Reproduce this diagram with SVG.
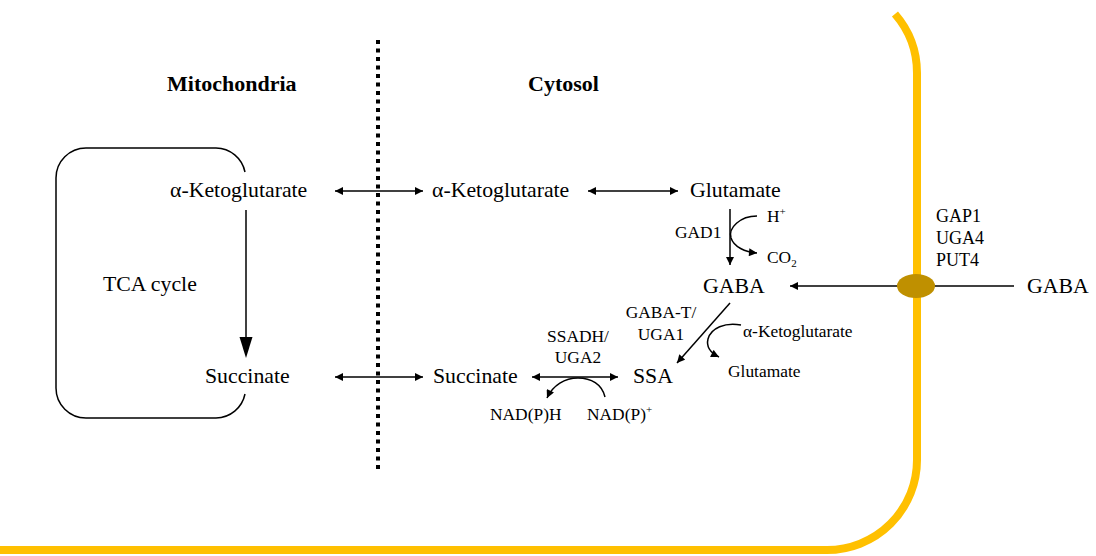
<svg xmlns="http://www.w3.org/2000/svg" width="1096" height="556" viewBox="0 0 1096 556">
<style>
text{font-family:"Liberation Serif","Times New Roman",serif;fill:#000}
.t{font-size:21.8px}
.s{font-size:17.4px}
.m{font-size:18px}
.b{font-size:22px;font-weight:bold}
.ln{stroke:#000;stroke-width:1.5;fill:none}
.sup{font-size:11px}
</style>
<defs>
<marker id="arr" viewBox="0 0 10 10" refX="10" refY="5" markerUnits="userSpaceOnUse" markerWidth="9" markerHeight="8" orient="auto-start-reverse">
<path d="M0,0 L10,5 L0,10 z" fill="#000"/>
</marker>
</defs>
<rect width="1096" height="556" fill="#fff"/>
<g id="cell-membrane">
<path d="M894.96,14 A90,90 0 0 1 917,73 V460 A90,90 0 0 1 827,550 H0" fill="none" stroke="#FFC000" stroke-width="8"/>
</g>
<g id="divider">
<line x1="378" y1="40" x2="378" y2="472" stroke="#000" stroke-width="4" stroke-dasharray="4 4.5"/>
</g>
<g id="tca-cycle">
<path d="M245,172 A30,30 0 0 0 216,148 H86 A30,30 0 0 0 56,178 V388 A30,30 0 0 0 86,418 H216 A30,30 0 0 0 245,394" class="ln"/>
<text class="t" x="103" y="291">TCA cycle</text>
</g>
<g id="titles">
<text class="b" x="167" y="91">Mitochondria</text>
<text class="b" x="528" y="91">Cytosol</text>
</g>
<g id="connectors">
<line x1="246" y1="210" x2="246" y2="338" class="ln"/>
<polygon points="239.5,337 252.5,337 246,358" fill="#000"/>
<line x1="335" y1="191" x2="423" y2="191" class="ln" marker-start="url(#arr)" marker-end="url(#arr)"/>
<line x1="588" y1="191" x2="678" y2="191" class="ln" marker-start="url(#arr)" marker-end="url(#arr)"/>
<line x1="335" y1="377" x2="423" y2="377" class="ln" marker-start="url(#arr)" marker-end="url(#arr)"/>
<line x1="532" y1="377" x2="618" y2="377" class="ln" marker-start="url(#arr)" marker-end="url(#arr)"/>
<line x1="730" y1="209" x2="730" y2="265" class="ln" marker-end="url(#arr)"/>
<path d="M757,216 C740,216 728,228 731,238 C734,247 745,252 757,253" class="ln" marker-end="url(#arr)"/>
<line x1="730" y1="303" x2="677" y2="363" class="ln" marker-end="url(#arr)"/>
<path d="M741,325 C725,322 711,328 708,339 C706,347 711,353 719,357" class="ln" marker-end="url(#arr)"/>
<path d="M605,397 C602,384 591,378 578,378 C565,378 553,385 547,398" class="ln" marker-end="url(#arr)"/>
<line x1="1014" y1="286" x2="790" y2="286" class="ln" marker-end="url(#arr)"/>
</g>
<g id="transporter">
<ellipse cx="916" cy="286" rx="19" ry="12" fill="#BF9000"/>
<text class="m" x="936" y="222">GAP1</text>
<text class="m" x="936" y="244">UGA4</text>
<text class="m" x="936" y="266">PUT4</text>
</g>
<g id="mito-akg"><text class="t" x="170" y="197">α-Ketoglutarate</text></g>
<g id="mito-succinate"><text class="t" x="205" y="383">Succinate</text></g>
<g id="cyto-akg"><text class="t" x="432" y="197">α-Ketoglutarate</text></g>
<g id="glutamate"><text class="t" x="690" y="197">Glutamate</text></g>
<g id="gad1">
<text class="s" x="675" y="238">GAD1</text>
<text class="s" x="767" y="222">H<tspan class="sup" dy="-7">+</tspan></text>
<text class="s" x="767" y="263">CO<tspan class="sup" dy="4">2</tspan></text>
</g>
<g id="gaba"><text class="t" x="703" y="293">GABA</text></g>
<g id="gaba-t">
<text class="s" x="661" y="318" text-anchor="middle">GABA-T/</text>
<text class="s" x="661" y="340" text-anchor="middle">UGA1</text>
<text class="s" x="743" y="337">α-Ketoglutarate</text>
<text class="s" x="728" y="377">Glutamate</text>
</g>
<g id="cyto-succinate"><text class="t" x="433" y="383">Succinate</text></g>
<g id="ssa"><text class="t" x="633" y="383">SSA</text></g>
<g id="ssadh">
<text class="s" x="578" y="342" text-anchor="middle">SSADH/</text>
<text class="s" x="578" y="363" text-anchor="middle">UGA2</text>
<text class="s" x="490" y="420">NAD(P)H</text>
<text class="s" x="587" y="420">NAD(P)<tspan class="sup" dy="-7">+</tspan></text>
</g>
<g id="gaba-out"><text class="t" x="1027" y="293">GABA</text></g>
</svg>
